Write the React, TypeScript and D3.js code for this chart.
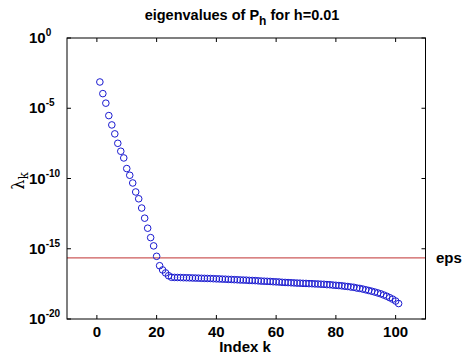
import React from "react";
import * as d3 from "d3";

const indices: number[] = d3.range(1, 102);
const eigenvalues: number[] = [
  7.4e-4, 1.1e-4, 2.3e-5, 3.0e-6, 6.5e-7, 1.5e-7, 3.2e-8, 8.7e-9, 2.9e-9, 5.1e-10,
  1.7e-10, 4.8e-11, 1.1e-11, 3.6e-12, 7.9e-13, 1.5e-13, 2.9e-14, 6.2e-15, 1.6e-15, 2.9e-16,
  6.2e-17, 3.1e-17, 1.9e-17, 1.2e-17, 9.3e-18, 9.1e-18, 9.0e-18, 8.9e-18, 8.7e-18, 8.6e-18,
  8.5e-18, 8.3e-18, 8.2e-18, 8.1e-18, 7.9e-18, 7.8e-18, 7.7e-18, 7.6e-18, 7.4e-18, 7.2e-18,
  7.1e-18, 6.9e-18, 6.8e-18, 6.6e-18, 6.5e-18, 6.3e-18, 6.2e-18, 6.0e-18, 5.9e-18, 5.8e-18,
  5.6e-18, 5.5e-18, 5.4e-18, 5.2e-18, 5.0e-18, 4.9e-18, 4.8e-18, 4.7e-18, 4.5e-18, 4.4e-18,
  4.3e-18, 4.1e-18, 4.0e-18, 3.9e-18, 3.8e-18, 3.7e-18, 3.6e-18, 3.55e-18, 3.45e-18, 3.4e-18,
  3.3e-18, 3.25e-18, 3.15e-18, 3.1e-18, 3.0e-18, 2.95e-18, 2.8e-18, 2.75e-18, 2.6e-18, 2.5e-18,
  2.4e-18, 2.3e-18, 2.15e-18, 2.05e-18, 1.9e-18, 1.8e-18, 1.6e-18, 1.5e-18, 1.35e-18, 1.2e-18,
  1.07e-18, 9.5e-19, 8.3e-19, 7.2e-19, 6.2e-19, 5.1e-19, 4.2e-19, 3.3e-19, 2.6e-19, 1.9e-19,
  1.26e-19,
];
const epsValue = 2.22e-16;
const xTicks: number[] = [0, 20, 40, 60, 80, 100];
const yTickExponents: number[] = [0, -5, -10, -15, -20];
const titleMain = "eigenvalues of P";
const titleSub = "h";
const titleRest = " for h=0.01";
const xLabel = "Index k";
const epsLabel = "eps";

export default function App() {
  const W = 464, H = 354;
  const left = 67, right = 425.5, top = 38, bottom = 319;
  const x = d3.scaleLinear().domain([-10, 110]).range([left, right]);
  const y = d3.scaleLog().domain([1e-20, 1]).range([bottom, top]);
  const font = "'Liberation Sans', Arial, Helvetica, sans-serif";
  const tickLen = 4;

  return (
    <svg width={W} height={H} style={{ position: "absolute", left: 0, top: 0, background: "#fff" }} fontFamily={font}>
      <rect x={0} y={0} width={W} height={H} fill="#fff" />
      {/* title */}
      <text x={242} y={20} textAnchor="middle" fontSize={14.5} fontWeight="bold" fill="#000">
        {titleMain}
        <tspan fontSize={12} dy={5}>{titleSub}</tspan>
        <tspan dy={-5}>{titleRest}</tspan>
      </text>
      {/* eps line */}
      <line x1={left} x2={right} y1={y(epsValue)} y2={y(epsValue)} stroke="#cc5a5a" strokeWidth={1.3} />
      {/* points */}
      {indices.map((k, i) => (
        <circle key={k} cx={x(k)} cy={y(eigenvalues[i])} r={3.3} fill="none" stroke="#1a1ad0" strokeWidth={1} />
      ))}
      {/* box */}
      <rect x={left} y={top} width={right - left} height={bottom - top} fill="none" stroke="#000" strokeWidth={1} />
      {/* x ticks */}
      {xTicks.map((t) => (
        <g key={"x" + t}>
          <line x1={x(t)} x2={x(t)} y1={bottom} y2={bottom - tickLen} stroke="#000" />
          <line x1={x(t)} x2={x(t)} y1={top} y2={top + tickLen} stroke="#000" />
          <text x={x(t)} y={337} textAnchor="middle" fontSize={15} fontWeight="bold" fill="#000">{t}</text>
        </g>
      ))}
      {/* y ticks */}
      {yTickExponents.map((e) => {
        const yy = y(Math.pow(10, e));
        return (
          <g key={"y" + e}>
            <line x1={left} x2={left + tickLen} y1={yy} y2={yy} stroke="#000" />
            <line x1={right} x2={right - tickLen} y1={yy} y2={yy} stroke="#000" />
            <text x={29} y={yy + 5} fontSize={15} fontWeight="bold" fill="#000">
              10
              <tspan fontSize={10} dy={-7}>{e}</tspan>
            </text>
          </g>
        );
      })}
      {/* x label */}
      <text x={245} y={352} textAnchor="middle" fontSize={15} fontWeight="bold" fill="#000">{xLabel}</text>
      {/* y label */}
      <text transform="translate(24,181) rotate(-90)" textAnchor="middle" fontSize={16} fill="#000" fontFamily="'DejaVu Serif', serif">
        λ<tspan fontSize={12} dy={4}>k</tspan>
      </text>
      {/* eps label */}
      <text x={436} y={263} fontSize={15} fontWeight="bold" fill="#000">{epsLabel}</text>
    </svg>
  );
}
